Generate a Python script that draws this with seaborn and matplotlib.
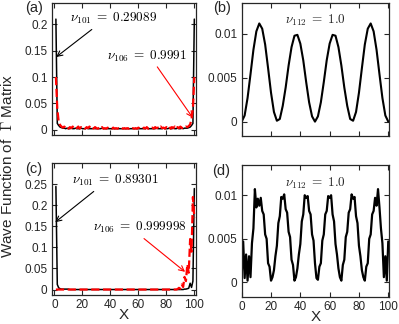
import numpy as np
import pandas as pd
import seaborn as sns
import matplotlib.pyplot as plt
from matplotlib.ticker import FormatStrFormatter

# site index
sites = list(range(1, 101))

# (a) nu_101 (black) and nu_106 (red dashed)
a_black = [0.210, 0.012, 0.008, 0.005, 0.004, 0.003, 0.003, 0.002, 0.003, 0.002,
           0.002, 0.003, 0.002, 0.002, 0.003, 0.002, 0.002, 0.002, 0.003, 0.002,
           0.002, 0.002, 0.003, 0.002, 0.002, 0.002, 0.002, 0.003, 0.002, 0.002,
           0.002, 0.002, 0.002, 0.003, 0.002, 0.002, 0.002, 0.002, 0.002, 0.002,
           0.002, 0.002, 0.002, 0.002, 0.002, 0.002, 0.002, 0.002, 0.002, 0.002,
           0.002, 0.002, 0.002, 0.002, 0.002, 0.002, 0.002, 0.002, 0.002, 0.002,
           0.002, 0.002, 0.002, 0.002, 0.002, 0.003, 0.002, 0.002, 0.002, 0.002,
           0.002, 0.002, 0.003, 0.002, 0.002, 0.002, 0.002, 0.003, 0.002, 0.002,
           0.002, 0.003, 0.002, 0.002, 0.003, 0.002, 0.002, 0.003, 0.002, 0.002,
           0.003, 0.002, 0.003, 0.003, 0.003, 0.004, 0.005, 0.008, 0.012, 0.210]
a_red = [0.100, 0.040, 0.015, 0.009, 0.006, 0.004, 0.006, 0.003, 0.005, 0.002,
         0.005, 0.003, 0.006, 0.002, 0.004, 0.003, 0.006, 0.002, 0.005, 0.003,
         0.004, 0.002, 0.005, 0.003, 0.006, 0.002, 0.004, 0.002, 0.005, 0.003,
         0.002, 0.004, 0.002, 0.005, 0.002, 0.003, 0.002, 0.004, 0.002, 0.003,
         0.002, 0.004, 0.002, 0.003, 0.002, 0.003, 0.002, 0.004, 0.002, 0.003,
         0.002, 0.003, 0.002, 0.004, 0.002, 0.003, 0.002, 0.003, 0.002, 0.004,
         0.002, 0.003, 0.002, 0.004, 0.002, 0.005, 0.002, 0.003, 0.002, 0.004,
         0.002, 0.005, 0.003, 0.004, 0.002, 0.006, 0.003, 0.004, 0.002, 0.005,
         0.003, 0.006, 0.002, 0.005, 0.003, 0.006, 0.002, 0.005, 0.003, 0.006,
         0.003, 0.005, 0.004, 0.006, 0.005, 0.007, 0.010, 0.020, 0.040, 0.100]

# (c) nu_101 (black) and nu_106 (red dashed)
c_black = [0.245, 0.012, 0.004, 0.002] + [0.001] * 6 + [0.0] * 82 + \
          [0.001, 0.001, 0.002, 0.003, 0.015, 0.005, 0.020, 0.240]
c_red = [0.0] * 87 + [0.001, 0.004, 0.002, 0.012, 0.006, 0.030, 0.020,
                      0.060, 0.040, 0.120, 0.090, 0.220, 0.170]

# (b) nu_112, every second site
b_x = list(range(0, 101, 2))
b_val = [0.0, 0.0007, 0.0027, 0.0054, 0.0082, 0.0103, 0.0112, 0.0106, 0.0088, 0.0061,
         0.0033, 0.0011, 0.0001, 0.0003, 0.0018, 0.0039, 0.0064, 0.0085, 0.0098, 0.0099,
         0.0089, 0.0070, 0.0045, 0.0022, 0.0006, 0.0, 0.0006, 0.0022, 0.0045, 0.0070,
         0.0089, 0.0099, 0.0098, 0.0085, 0.0064, 0.0039, 0.0018, 0.0003, 0.0001, 0.0011,
         0.0033, 0.0061, 0.0088, 0.0106, 0.0112, 0.0103, 0.0082, 0.0054, 0.0027, 0.0007, 0.0]

# (d) nu_112, disordered
d_x = list(range(0, 101))
d_val = [0.0008, 0.0047, 0.0005, 0.0032, 0.0002, 0.0030, 0.0006, 0.0045, 0.0062, 0.0107,
         0.0086, 0.0096, 0.0088, 0.0097, 0.0082, 0.0078, 0.0055, 0.0050, 0.0022, 0.0018,
         0.0002, 0.0006, 0.0014, 0.0030, 0.0042, 0.0068, 0.0076, 0.0098, 0.0096, 0.0101,
         0.0084, 0.0080, 0.0058, 0.0052, 0.0026, 0.0020, 0.0002, 0.0006, 0.0016, 0.0032,
         0.0044, 0.0070, 0.0078, 0.0100, 0.0097, 0.0099, 0.0082, 0.0078, 0.0055, 0.0048,
         0.0022, 0.0005, 0.0003, 0.0018, 0.0022, 0.0048, 0.0055, 0.0078, 0.0082, 0.0099,
         0.0097, 0.0100, 0.0078, 0.0070, 0.0044, 0.0032, 0.0016, 0.0006, 0.0002, 0.0020,
         0.0026, 0.0052, 0.0058, 0.0080, 0.0084, 0.0101, 0.0096, 0.0098, 0.0076, 0.0068,
         0.0042, 0.0030, 0.0014, 0.0006, 0.0002, 0.0018, 0.0022, 0.0050, 0.0055, 0.0078,
         0.0082, 0.0097, 0.0088, 0.0107, 0.0086, 0.0062, 0.0045, 0.0006, 0.0030, 0.0002,
         0.0047]

sns.set_style("ticks")
plt.rcParams['font.family'] = ['Liberation Sans', 'DejaVu Sans']
plt.rcParams['mathtext.fontset'] = 'cm'

fig = plt.figure(figsize=(3.99, 3.24), dpi=100)
W, H = 399, 324


def box(l, t, r, b):
    return [l / W, 1 - b / H, (r - l) / W, (b - t) / H]


ax_a = fig.add_axes(box(51.7, 3.3, 196, 135))
ax_b = fig.add_axes(box(241.7, 3.3, 389.3, 136))
ax_c = fig.add_axes(box(51.7, 163.3, 196, 295))
ax_d = fig.add_axes(box(241.7, 164.7, 389.3, 296.7))

sns.lineplot(x=sites, y=a_black, color='black', lw=1.1, ax=ax_a)
sns.lineplot(x=sites, y=a_red, color='red', lw=1.6, linestyle='--', ax=ax_a)
sns.lineplot(x=sites, y=c_black, color='black', lw=1.1, ax=ax_c)
sns.lineplot(x=sites, y=c_red, color='red', lw=1.6, linestyle='--', ax=ax_c)
sns.lineplot(x=b_x, y=b_val, color='black', lw=1.5, ax=ax_b)
sns.lineplot(x=d_x, y=d_val, color='black', lw=1.6, ax=ax_d)

ax_a.set_ylim(-0.01, 0.24)
ax_a.set_yticks([0, 0.05, 0.1, 0.15, 0.2])
ax_c.set_ylim(-0.013, 0.3)
ax_c.set_yticks([0, 0.05, 0.1, 0.15, 0.2, 0.25])
for ax in (ax_a, ax_c):
    ax.set_xlim(-2, 101.2)
for ax in (ax_b, ax_d):
    ax.set_xlim(0, 100.7)
    ax.set_ylim(-0.00164, 0.0135)
    ax.set_yticks([0, 0.005, 0.01])

for ax in (ax_a, ax_b, ax_c, ax_d):
    ax.set_xticks([0, 20, 40, 60, 80, 100])
    ax.yaxis.set_major_formatter(FormatStrFormatter('%g'))
    ax.tick_params(direction='in', top=True, right=True, length=3.5, width=0.8,
                   labelsize=8.5, pad=3)
    for s in ax.spines.values():
        s.set_linewidth(0.9)
    ax.set_xlabel('')
    ax.set_ylabel('')
for ax in (ax_a, ax_b):
    ax.tick_params(labelbottom=False)
for ax in (ax_c, ax_d):
    ax.set_xlabel('X', fontsize=11, labelpad=-2)

ax_a.annotate(r'$\nu_{101}\;=\;0.29089$', xy=(1.2, 0.138), xytext=(11, 0.211),
              fontsize=9.5, va='center', color='black',
              arrowprops=dict(arrowstyle='->', color='black', lw=0.8,
                              shrinkA=0, shrinkB=0, relpos=(0.3, 0)))
ax_a.annotate(r'$\nu_{106}\;=\;0.9991$', xy=(98.8, 0.023), xytext=(37.5, 0.14),
              fontsize=9.5, va='center', color='black',
              arrowprops=dict(arrowstyle='->', color='red', lw=0.8,
                              shrinkA=0, shrinkB=0, relpos=(0.6, 0)))
ax_c.annotate(r'$\nu_{101}\;=\;0.89301$', xy=(0.5, 0.16), xytext=(12.4, 0.259),
              fontsize=9.5, va='center', color='black',
              arrowprops=dict(arrowstyle='->', color='black', lw=0.8,
                              shrinkA=0, shrinkB=0, relpos=(0.3, 0)))
ax_c.annotate(r'$\nu_{106}\;=\;0.999998$', xy=(93.4, 0.042), xytext=(27.6, 0.147),
              fontsize=9.5, va='center', color='black',
              arrowprops=dict(arrowstyle='->', color='red', lw=0.8,
                              shrinkA=0, shrinkB=0, relpos=(0.5, 0)))
ax_b.text(50, 0.0115, r'$\nu_{112}\;=\;1.0$', fontsize=9.5, ha='center', va='center')
ax_d.text(50, 0.0114, r'$\nu_{112}\;=\;1.0$', fontsize=9.5, ha='center', va='center')

for lab, (px, py) in zip(['(a)', '(b)', '(c)', '(d)'],
                         [(25, 8), (213, 8), (25, 169), (212, 171)]):
    fig.text(px / W, 1 - py / H, lab, fontsize=10.5, va='center', ha='left')

fig.text(8 / W, 1 - 166 / H, r'Wave Function of  $\Gamma$ Matrix', rotation=90,
         fontsize=11, va='center', ha='center')

fig.savefig('out.png', dpi=100)
